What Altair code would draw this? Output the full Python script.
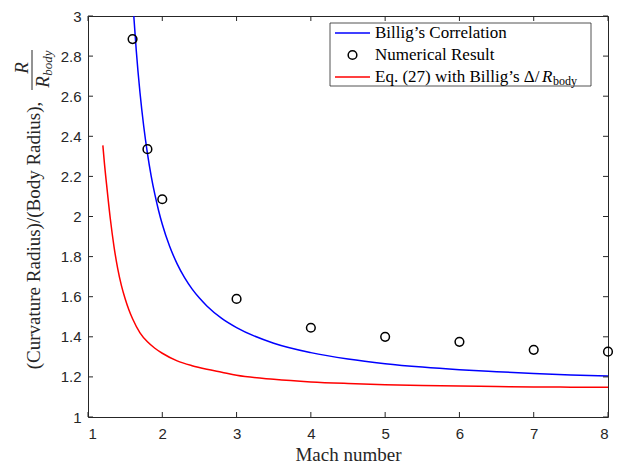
import altair as alt
import pandas as pd

# ---- data ----
mach_billig = [1.60, 1.61, 1.62, 1.65, 1.70, 1.75, 1.80, 1.85, 1.90, 1.95, 2.00, 2.10, 2.20, 2.30,
               2.40, 2.50, 2.60, 2.80, 3.00, 3.50, 4.00, 4.50, 5.00, 5.50, 6.00, 6.50, 7.00, 7.50, 8.00]
r_billig = [3.097, 3.038, 2.981, 2.827, 2.617, 2.450, 2.315, 2.203, 2.110, 2.030, 1.961, 1.850, 1.764, 1.695,
            1.639, 1.593, 1.554, 1.492, 1.446, 1.368, 1.321, 1.289, 1.266, 1.249, 1.236, 1.226, 1.217, 1.210, 1.205]

mach_eq27 = [1.20, 1.22, 1.25, 1.30, 1.35, 1.40, 1.45, 1.50, 1.55, 1.60, 1.70, 1.80, 1.90, 2.00, 2.20,
             2.40, 2.60, 2.80, 3.00, 3.50, 4.00, 4.50, 5.00, 5.50, 6.00, 6.50, 7.00, 7.50, 8.00]
r_eq27 = [2.355, 2.270, 2.160, 1.990, 1.850, 1.740, 1.655, 1.590, 1.535, 1.490, 1.420, 1.375, 1.343, 1.318, 1.280,
          1.256, 1.238, 1.223, 1.208, 1.188, 1.175, 1.167, 1.161, 1.157, 1.154, 1.152, 1.150, 1.149, 1.148]

mach_num = [1.6, 1.8, 2.0, 3.0, 4.0, 5.0, 6.0, 7.0, 8.0]
r_num = [2.885, 2.336, 2.086, 1.589, 1.445, 1.400, 1.375, 1.335, 1.326]

x_ticks = [1, 2, 3, 4, 5, 6, 7, 8]
y_ticks = [1.0, 1.2, 1.4, 1.6, 1.8, 2.0, 2.2, 2.4, 2.6, 2.8, 3.0]

legend_labels = ["Billig\u2019s Correlation", "Numerical Result", "Eq. (27) with Billig\u2019s \u0394/"]

W, H = 520, 401
AX = "#262626"
SERIF = "Liberation Serif"
SANS = "Liberation Sans"

xs = alt.Scale(domain=[1, 8], nice=False, zero=False)
ys = alt.Scale(domain=[1, 3], nice=False, zero=False)

df_b = pd.DataFrame({"M": mach_billig, "R": r_billig})
df_e = pd.DataFrame({"M": mach_eq27, "R": r_eq27})
df_n = pd.DataFrame({"M": mach_num, "R": r_num})
df_xt = pd.DataFrame({"M": x_ticks})
df_yt = pd.DataFrame({"R": y_ticks})
one = pd.DataFrame({"a": [0]})

x_axis = alt.Axis(values=x_ticks, format="~g", title="Mach number", grid=False, domain=False,
                  ticks=False, tickSize=0, labelPadding=9, labelFont=SANS, labelFontSize=15,
                  labelColor=AX, titleFont=SERIF, titleFontSize=19, titleFontWeight="normal",
                  titleColor=AX, titleY=37, titleBaseline="middle")
y_axis = alt.Axis(values=y_ticks, format="~g", title="(Curvature Radius)/(Body Radius),",
                  grid=False, domain=False, ticks=False, tickSize=0, labelPadding=7,
                  labelFont=SANS, labelFontSize=15, labelColor=AX, titleFont=SERIF,
                  titleFontSize=19, titleFontWeight="normal", titleColor=AX, titleAngle=270,
                  titleX=-55, titleY=219, titleAlign="center", titleBaseline="middle")

X = alt.X("M:Q", scale=xs, axis=x_axis)
Y = alt.Y("R:Q", scale=ys, axis=y_axis)

blue = alt.Chart(df_b).mark_line(color="#0000FF", strokeWidth=1.5, clip=True,
                                 interpolate="monotone").encode(x=X, y=Y)

red = alt.Chart(df_e).mark_line(color="#FF0000", strokeWidth=1.5, clip=True,
                                interpolate="monotone").encode(x=X, y=Y)

pts = alt.Chart(df_n).mark_point(shape="circle", filled=False, color="black", size=75,
                                 strokeWidth=1.5, opacity=1).encode(x=X, y=Y)

# inward ticks on all four sides
tick_style = dict(color=AX, strokeWidth=1)
xt_bot = alt.Chart(df_xt).mark_rule(**tick_style).encode(
    x=X, y=alt.value(H), y2=alt.value(H - 5))
xt_top = alt.Chart(df_xt).mark_rule(**tick_style).encode(
    x=X, y=alt.value(0), y2=alt.value(5))
yt_left = alt.Chart(df_yt).mark_rule(**tick_style).encode(
    y=Y, x=alt.value(0), x2=alt.value(5))
yt_right = alt.Chart(df_yt).mark_rule(**tick_style).encode(
    y=Y, x=alt.value(W - 5), x2=alt.value(W))

# fraction R / R_body in the y title
frac_num = alt.Chart(one).mark_text(text="R", font=SERIF, fontStyle="italic", fontSize=19,
                                    angle=270, color=AX, align="center", baseline="middle").encode(
    x=alt.value(-66), y=alt.value(52))
frac_bar = alt.Chart(one).mark_rule(color=AX, strokeWidth=1).encode(
    x=alt.value(-56), y=alt.value(34), y2=alt.value(74))
frac_den = alt.Chart(one).mark_text(text="R", font=SERIF, fontStyle="italic", fontSize=19,
                                    angle=270, color=AX, align="center", baseline="middle").encode(
    x=alt.value(-45), y=alt.value(66))
frac_sub = alt.Chart(one).mark_text(text="body", font=SERIF, fontStyle="italic", fontSize=13,
                                    angle=270, color=AX, align="center", baseline="middle").encode(
    x=alt.value(-40), y=alt.value(47))

# legend box
leg_box = alt.Chart(one).mark_rect(fill="white", stroke=AX, strokeWidth=0.8).encode(
    x=alt.value(242), x2=alt.value(503), y=alt.value(7), y2=alt.value(70))
leg_blue = alt.Chart(one).mark_rule(color="#0000FF", strokeWidth=1.5).encode(
    x=alt.value(247), x2=alt.value(282), y=alt.value(17))
leg_red = alt.Chart(one).mark_rule(color="#FF0000", strokeWidth=1.5).encode(
    x=alt.value(247), x2=alt.value(282), y=alt.value(61))
leg_pt = alt.Chart(one).mark_point(shape="circle", filled=False, color="black", size=75,
                                   strokeWidth=1.5, opacity=1).encode(
    x=alt.value(264.5), y=alt.value(39))
txt_style = dict(font=SERIF, fontSize=17, color="black", align="left", baseline="middle")
leg_t1 = alt.Chart(one).mark_text(text=legend_labels[0], **txt_style).encode(
    x=alt.value(287), y=alt.value(17))
leg_t2 = alt.Chart(one).mark_text(text=legend_labels[1], **txt_style).encode(
    x=alt.value(287), y=alt.value(39))
leg_t3 = alt.Chart(one).mark_text(text=legend_labels[2], **txt_style).encode(
    x=alt.value(287), y=alt.value(61))
leg_t3r = alt.Chart(one).mark_text(text="R", font=SERIF, fontSize=17, fontStyle="italic",
                                   color="black", align="left", baseline="middle").encode(
    x=alt.value(454), y=alt.value(61))
leg_t3s = alt.Chart(one).mark_text(text="body", font=SERIF, fontSize=12, color="black",
                                   align="left", baseline="middle").encode(
    x=alt.value(465), y=alt.value(65))

chart = alt.layer(
    blue, red, pts, xt_bot, xt_top, yt_left, yt_right,
    frac_num, frac_bar, frac_den, frac_sub,
    leg_box, leg_blue, leg_red, leg_pt, leg_t1, leg_t2, leg_t3, leg_t3r, leg_t3s
).properties(
    width=W, height=H,
    padding={"left": 80, "top": 8, "right": 9, "bottom": 46},
    autosize=alt.AutoSizeParams(type="none"),
    background="white",
).configure_view(stroke=AX, strokeWidth=1)

chart.save("out.html", embed_options={"renderer": "svg", "actions": False})
